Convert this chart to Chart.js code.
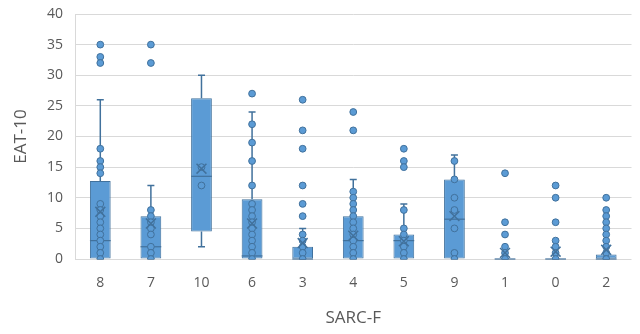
<!DOCTYPE html>
<html>
<head>
<meta charset="utf-8">
<script src="https://cdn.jsdelivr.net/npm/chart.js@4.4.1/dist/chart.umd.min.js"></script>
<style>
  html, body { margin: 0; padding: 0; background: #ffffff; }
  #wrap { width: 640px; height: 334px; position: relative; }
</style>
</head>
<body>
<div id="wrap"><canvas id="c" width="640" height="334"></canvas></div>
<script>
// ---- data ----
const categories = ['8', '7', '10', '6', '3', '4', '5', '9', '1', '0', '2'];
const yTicks = [0, 5, 10, 15, 20, 25, 30, 35, 40];

const q1Values      = [0, 0, 4.5, 0, 0, 0, 0, 0, 0, 0, 0];
const q3Values      = [12.75, 7, 26.25, 9.75, 2, 7, 4, 13, 0, 0, 0.75];
const medianValues  = [3, 2, 13.5, 0.5, 0, 3, 3, 6.5, 0, 0, 0];
const meanValues    = [7.7, 5.8, 14.75, 5.8, 2.6, 3.8, 2.9, 7, 1, 1.2, 1.5];
const whiskerLow    = [0, 0, 2, 0, 0, 0, 0, 0, 0, 0, 0];
const whiskerHigh   = [26, 12, 30, 24, 5, 13, 9, 17, 0, 0, 1];

const pts8  = [35, 33, 32, 18, 16, 15, 14, 9, 8, 7, 6, 5, 4, 3, 2, 1, 0];
const pts7  = [35, 32, 8, 7, 6, 5, 4, 2, 1, 0];
const pts10 = [15, 12];
const pts6  = [27, 22, 19, 16, 12, 9, 8, 7, 6, 5, 4, 3, 2, 1, 0];
const pts3  = [26, 21, 18, 12, 9, 7, 4, 3, 2, 1, 0];
const pts4  = [24, 21, 11, 10, 9, 8, 7, 6, 5, 4, 3, 2, 1, 0];
const pts5  = [18, 16, 15, 8, 5, 4, 3, 2, 1, 0];
const pts9  = [16, 13, 10, 8, 5, 1, 0];
const pts1  = [14, 6, 4, 2, 1, 0];
const pts0  = [12, 10, 6, 3, 2, 1, 0];
const pts2  = [10, 8, 7, 6, 5, 4, 3, 2, 1, 0];
const pointsByCategory = [pts8, pts7, pts10, pts6, pts3, pts4, pts5, pts9, pts1, pts0, pts2];

// ---- styles ----
const FILL = '#5b9bd5';
const EDGE = '#41719c';
const TEXT = '#595959';
const GRID = '#d9d9d9';
const FONT = "'Open Sans', 'Noto Sans', sans-serif";

const scatterData = [];
pointsByCategory.forEach((arr, i) => {
  arr.forEach(v => scatterData.push({ x: categories[i], y: v }));
});

const boxPlugin = {
  id: 'boxparts',
  beforeDatasetsDraw(chart) {
    const ctx = chart.ctx;
    const xs = chart.scales.x, ys = chart.scales.y;
    ctx.save();
    ctx.strokeStyle = EDGE;
    ctx.lineWidth = 1.5;
    categories.forEach((c, i) => {
      const x = xs.getPixelForValue(i);
      const half = 3.5;
      const yl = ys.getPixelForValue(whiskerLow[i]);
      const yq1 = ys.getPixelForValue(q1Values[i]);
      const yq3 = ys.getPixelForValue(q3Values[i]);
      const yh = ys.getPixelForValue(whiskerHigh[i]);
      ctx.beginPath();
      ctx.moveTo(x, yq3); ctx.lineTo(x, yh);
      ctx.moveTo(x - half, yh); ctx.lineTo(x + half, yh);
      ctx.moveTo(x, yq1); ctx.lineTo(x, yl);
      ctx.moveTo(x - half, yl); ctx.lineTo(x + half, yl);
      ctx.stroke();
    });
    ctx.restore();
  },
  afterDatasetDraw(chart, args) {
    if (args.index !== 0) return;
    const ctx = chart.ctx;
    const ys = chart.scales.y;
    const meta = chart.getDatasetMeta(0);
    ctx.save();
    ctx.strokeStyle = EDGE;
    ctx.lineWidth = 1.2;
    meta.data.forEach((bar, i) => {
      const w = bar.width;
      const y = ys.getPixelForValue(medianValues[i]);
      ctx.beginPath();
      ctx.moveTo(bar.x - w / 2, y);
      ctx.lineTo(bar.x + w / 2, y);
      ctx.stroke();
    });
    ctx.restore();
  }
};

new Chart(document.getElementById('c'), {
  data: {
    labels: categories,
    datasets: [
      {
        type: 'bar',
        data: categories.map((c, i) => [q1Values[i], q3Values[i]]),
        backgroundColor: FILL,
        borderColor: EDGE,
        borderWidth: 1,
        borderSkipped: false,
        categoryPercentage: 1,
        barPercentage: 0.41,
        order: 3
      },
      {
        type: 'line',
        data: scatterData,
        showLine: false,
        pointRadius: 3.4,
        pointBackgroundColor: FILL,
        pointBorderColor: EDGE,
        pointBorderWidth: 1,
        order: 2
      },
      {
        type: 'line',
        data: meanValues,
        showLine: false,
        pointStyle: 'crossRot',
        pointRadius: 7,
        pointBorderColor: EDGE,
        pointBorderWidth: 1.5,
        pointBackgroundColor: 'rgba(0,0,0,0)',
        order: 1
      }
    ]
  },
  options: {
    responsive: false,
    animation: false,
    events: [],
    layout: { padding: { top: 14, right: 6, left: 0, bottom: 0 } },
    plugins: { legend: { display: false }, tooltip: { enabled: false } },
    scales: {
      x: {
        type: 'category',
        offset: true,
        grid: { display: false, drawTicks: false },
        border: { display: false },
        ticks: { color: TEXT, font: { family: FONT, size: 14 }, padding: 16 },
        title: { display: true, text: 'SARC-F', color: TEXT, font: { family: FONT, size: 17 }, padding: { top: 0, bottom: 6 } },
        afterFit(scale) { scale.height = 75; }
      },
      y: {
        type: 'linear',
        min: 0,
        max: 40,
        afterBuildTicks(scale) { scale.ticks = yTicks.map(v => ({ value: v })); },
        grid: { color: GRID, lineWidth: 1, drawTicks: true, tickLength: 9, tickColor: 'rgba(0,0,0,0)' },
        border: { display: true, color: GRID },
        ticks: { color: TEXT, font: { family: FONT, size: 14 }, padding: 3 },
        title: { display: true, text: 'EAT-10', color: TEXT, font: { family: FONT, size: 17 }, padding: { top: 11, bottom: 0 } },
        afterFit(scale) { scale.width = 75; }
      }
    }
  },
  plugins: [boxPlugin]
});
</script>
</body>
</html>
